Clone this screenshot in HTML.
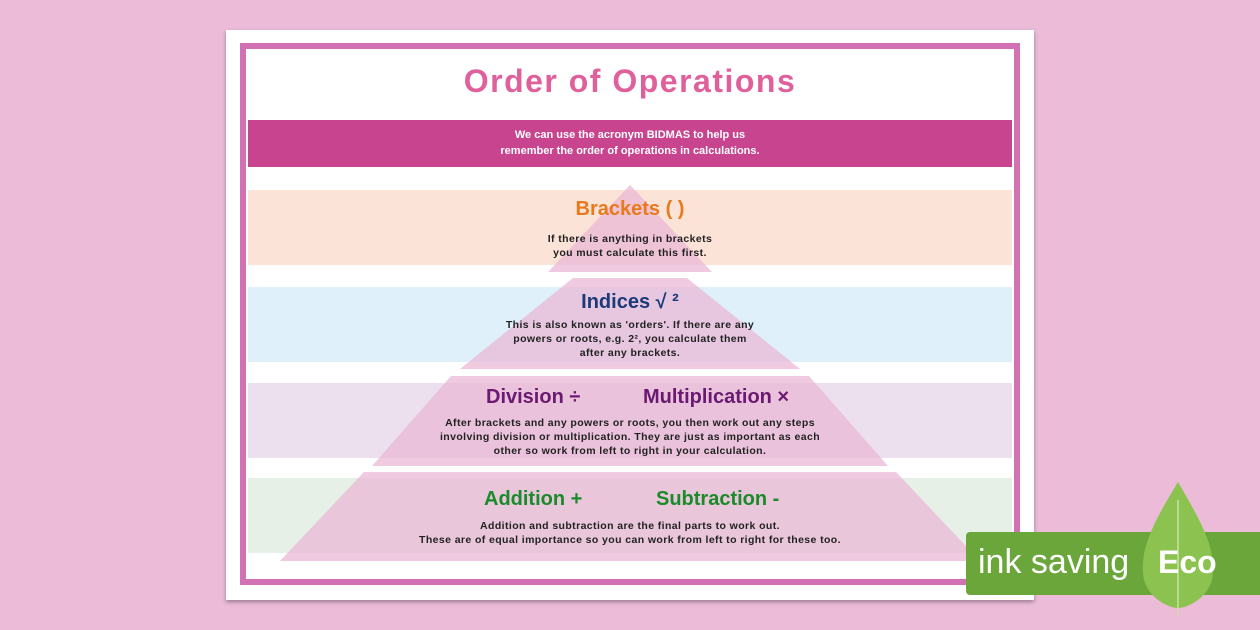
<!DOCTYPE html>
<html><head><style>
body{margin:0;width:1260px;height:630px;background:#ebbbd8;position:relative;overflow:hidden;font-family:"Liberation Sans",sans-serif}
.a{position:absolute}
.t{position:absolute;width:100%;text-align:center;left:0}
.h{font-weight:bold;font-size:20px}
.s{font-size:10.5px;font-weight:bold;color:#222;line-height:14px;letter-spacing:.4px}
</style></head><body>
<div class="a" style="left:226px;top:30px;width:808px;height:570px;background:#fff;box-shadow:0 2px 4px rgba(0,0,0,.35)"></div>
<div class="a" style="left:240px;top:43px;width:768px;height:530px;border:6px solid #d272b4;background:#fff"></div>
<div class="a" style="left:248px;top:50px;width:764px;height:70px;background:#fff;text-align:center;color:#e0609c;font-size:32px;font-weight:bold;line-height:62px;letter-spacing:1.5px">Order of Operations</div>
<div class="a" style="left:248px;top:120px;width:764px;height:47px;background:#c9448f;color:#fff;text-align:center;font-size:11px;font-weight:bold;line-height:16px;padding-top:7px;box-sizing:border-box">We can use the acronym BIDMAS to help us<br>remember the order of operations in calculations.</div>
<div class="a" style="left:248px;top:190px;width:764px;height:75px;background:#fbe3d7"></div>
<div class="a" style="left:248px;top:287px;width:764px;height:75px;background:#dff0fb"></div>
<div class="a" style="left:248px;top:383px;width:764px;height:75px;background:#ece0ef"></div>
<div class="a" style="left:248px;top:478px;width:764px;height:75px;background:#e6f0e6"></div>
<svg class="a" style="left:0;top:0" width="1260" height="630">
<g fill="#eab8d6" fill-opacity="0.75">
<polygon points="630,185 712,272 548,272"/>
<polygon points="573,278 687,278 800,369 460,369"/>
<polygon points="451,376 809,376 888,466 372,466"/>
<polygon points="364,472 896,472 980,561 280,561"/>
</g>
</svg>
<div class="t h" style="top:198px;color:#e87a1c">Brackets ( )</div>
<div class="t s" style="top:232px">If there is anything in brackets<br>you must calculate this first.</div>
<div class="t h" style="top:291px;color:#1a3a7a">Indices √ ²</div>
<div class="t s" style="top:318px">This is also known as 'orders'. If there are any<br>powers or roots, e.g. 2², you calculate them<br>after any brackets.</div>
<div class="a h" style="left:486px;top:386px;color:#6a1a70">Division ÷</div>
<div class="a h" style="left:643px;top:386px;color:#6a1a70">Multiplication ×</div>
<div class="t s" style="top:416px">After brackets and any powers or roots, you then work out any steps<br>involving division or multiplication. They are just as important as each<br>other so work from left to right in your calculation.</div>
<div class="a h" style="left:484px;top:488px;color:#1a8a2a">Addition +</div>
<div class="a h" style="left:656px;top:488px;color:#1a8a2a">Subtraction -</div>
<div class="t s" style="top:519px">Addition and subtraction are the final parts to work out.<br>These are of equal importance so you can work from left to right for these too.</div>
<div class="a" style="left:966px;top:532px;width:300px;height:63px;background:#6aa63a;border-radius:4px"></div>
<svg class="a" style="left:1130px;top:480px" width="100" height="135">
<path d="M48,2 C25,40 8,70 14,100 C20,120 40,128 48,128 C56,128 76,120 82,100 C88,70 70,40 48,2Z" fill="#8cc350"/>
<line x1="48" y1="20" x2="48" y2="135" stroke="#c8e0a0" stroke-width="1.5"/>
</svg>
<div class="a" style="left:978px;top:540px;color:#fff;font-size:34px;line-height:44px">ink saving</div>
<div class="a" style="left:1158px;top:540px;color:#fff;font-size:32px;font-weight:bold;line-height:44px">Eco</div>
</body></html>
